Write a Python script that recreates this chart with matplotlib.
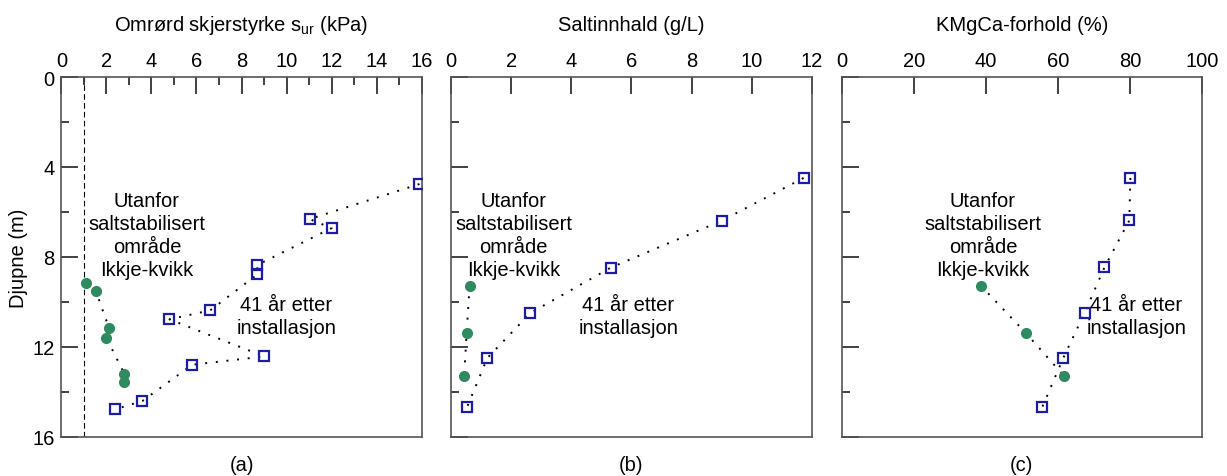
import numpy as np
import matplotlib.pyplot as plt
from matplotlib.ticker import MultipleLocator

plt.rcParams['font.family'] = ['Liberation Sans', 'DejaVu Sans']
plt.rcParams['mathtext.fontset'] = 'custom'
plt.rcParams['mathtext.rm'] = 'Liberation Sans'
plt.rcParams['mathtext.it'] = 'Liberation Sans'

# Omrørd skjerstyrke (a)
sur_ute = [1.11, 1.53, 2.12, 2.0, 2.8, 2.8]
djup_sur_ute = [9.15, 9.52, 11.17, 11.6, 13.21, 13.58]
sur_inne = [15.9, 11.02, 12.0, 8.7, 8.7, 6.61, 4.8, 9.01, 5.81, 3.6, 2.4]
djup_sur_inne = [4.76, 6.32, 6.72, 8.36, 8.78, 10.38, 10.78, 12.43, 12.8, 14.41, 14.78]
sur_grense = 1.0

# Saltinnhald (b)
salt_ute = [0.61, 0.51, 0.43]
djup_salt_ute = [9.28, 11.39, 13.29]
salt_inne = [11.73, 9.01, 5.31, 2.63, 1.2, 0.52]
djup_salt_inne = [4.49, 6.39, 8.48, 10.5, 12.5, 14.7]

# KMgCa-forhold (c)
kmgca_ute = [38.6, 51.1, 61.7]
djup_kmgca_ute = [9.28, 11.39, 13.3]
kmgca_inne = [80.1, 79.8, 72.9, 67.4, 61.5, 55.6]
djup_kmgca_inne = [4.49, 6.38, 8.47, 10.49, 12.49, 14.7]

titlar = ['Omrørd skjerstyrke s$_{\\mathrm{ur}}$ (kPa)', 'Saltinnhald (g/L)', 'KMgCa-forhold (%)']
xmaks = [16, 12, 100]
xsteg = [2, 2, 20]
xminor = [1, None, None]
bokstav = ['(a)', '(b)', '(c)']
tekst_ute_x = [3.8, 2.07, 39.2]
tekst_inne_x = [9.98, 5.9, 81.7]

blaa = '#1c1ca6'
gronn = '#2e8b5f'
kant = '#555555'
fs = 14.5

fig = plt.figure(figsize=(12.27, 4.77), dpi=100)
venstre = [0.050, 0.3678, 0.686]
axes = [fig.add_axes([l, 0.0824, 0.2937, 0.754]) for l in venstre]

data = [
    (sur_ute, djup_sur_ute, sur_inne, djup_sur_inne),
    (salt_ute, djup_salt_ute, salt_inne, djup_salt_inne),
    (kmgca_ute, djup_kmgca_ute, kmgca_inne, djup_kmgca_inne),
]

prikk = (0, (1, 4.5))

for i, ax in enumerate(axes):
    xu, yu, xi, yi = data[i]
    ax.plot(xi, yi, color='black', linestyle=prikk, linewidth=1.4, zorder=2)
    ax.plot(xu, yu, color='black', linestyle=prikk, linewidth=1.4, zorder=2)
    ax.plot(xi, yi, linestyle='none', marker='s', markersize=6.5,
            markerfacecolor='none', markeredgecolor=blaa, markeredgewidth=1.6, zorder=3)
    ax.plot(xu, yu, linestyle='none', marker='o', markersize=7,
            markerfacecolor=gronn, markeredgecolor=gronn, zorder=3)

    ax.set_xlim(0, xmaks[i])
    ax.set_ylim(16, 0)
    ax.xaxis.set_ticks_position('top')
    ax.xaxis.set_label_position('top')
    ax.xaxis.set_major_locator(MultipleLocator(xsteg[i]))
    if xminor[i]:
        ax.xaxis.set_minor_locator(MultipleLocator(xminor[i]))
    ax.yaxis.set_major_locator(MultipleLocator(4))
    ax.yaxis.set_minor_locator(MultipleLocator(2))
    ax.tick_params(which='major', direction='in', length=12, width=1.3,
                   color='#333333', labelsize=fs, pad=5)
    ax.tick_params(which='minor', direction='in', length=6, width=1.3,
                   color='#333333')
    ax.tick_params(axis='y', right=False)
    ax.tick_params(axis='x', bottom=False)
    ax.set_xlabel(titlar[i], fontsize=fs, labelpad=15)
    if i > 0:
        ax.tick_params(axis='y', labelleft=False)
    for s in ax.spines.values():
        s.set_color(kant)
        s.set_linewidth(1.2)

    ax.text(tekst_ute_x[i], 7.03, 'Utanfor\nsaltstabilisert\nområde\nIkkje-kvikk',
            ha='center', va='center', fontsize=fs, linespacing=1.27)
    ax.text(tekst_inne_x[i], 10.63, '41 år etter\ninstallasjon',
            ha='center', va='center', fontsize=fs, linespacing=1.22)
    ax.text(0.5, -0.078, bokstav[i], transform=ax.transAxes,
            ha='center', va='center', fontsize=fs)

axes[0].axvline(sur_grense, color='black', linestyle=(0, (5, 3)), linewidth=0.8, zorder=1)
axes[0].set_ylabel('Djupne (m)', fontsize=fs, labelpad=3)

fig.savefig('out.png', dpi=100)
